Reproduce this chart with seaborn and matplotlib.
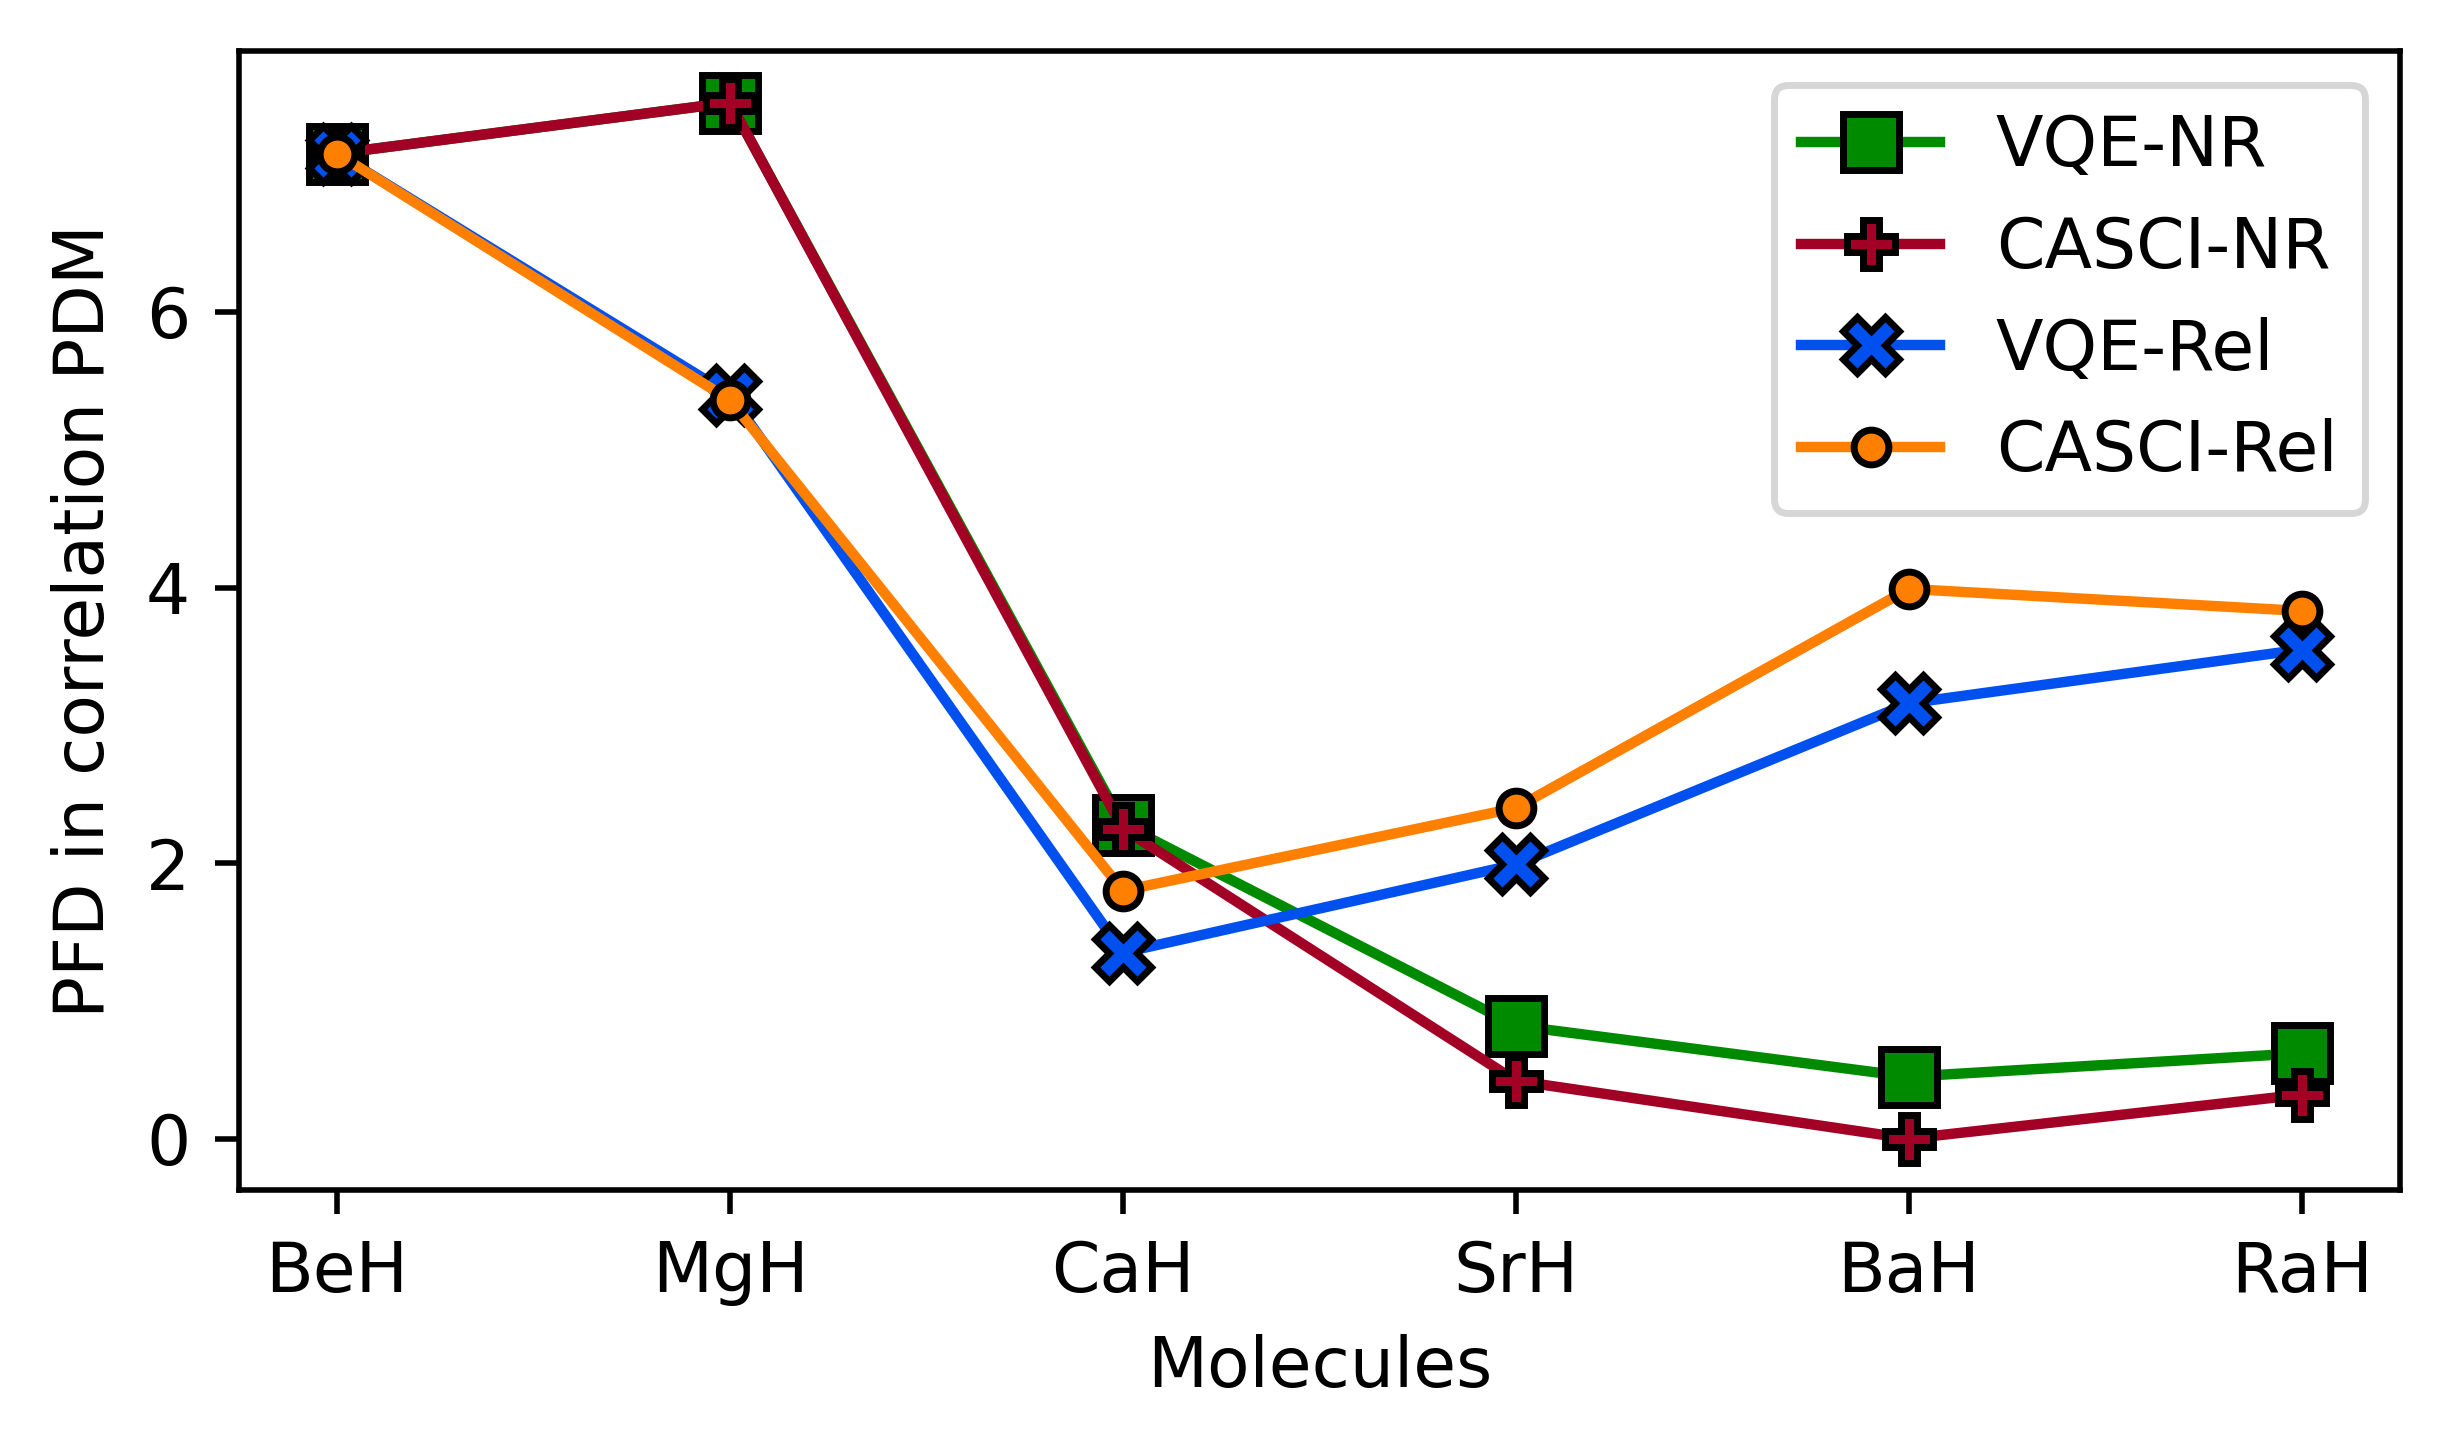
import numpy as np
import pandas as pd
import seaborn as sns
from matplotlib import pyplot as plt

molecules = ['BeH', 'MgH', 'CaH', 'SrH', 'BaH', 'RaH']
vqe_nr = [7.15, 7.52, 2.28, 0.82, 0.45, 0.62]
casci_nr = [7.15, 7.52, 2.25, 0.42, 0.00, 0.32]
vqe_rel = [7.15, 5.40, 1.35, 1.99, 3.16, 3.55]
casci_rel = [7.15, 5.36, 1.80, 2.40, 3.99, 3.83]

series = [
    ('VQE-NR', vqe_nr, '#008a00', 's', 8),
    ('CASCI-NR', casci_nr, '#a20025', 'P', 7),
    ('VQE-Rel', vqe_rel, '#0050ef', 'X', 8),
    ('CASCI-Rel', casci_rel, '#ff8000', 'o', 5),
]

fig, ax = plt.subplots(figsize=(4.898, 2.9), dpi=500)
fig.subplots_adjust(left=0.0975, right=0.98, top=0.965, bottom=0.179)

for name, vals, col, mk, ms in series:
    df = pd.DataFrame({'Molecules': molecules, 'val': vals})
    sns.lineplot(data=df, x='Molecules', y='val', ax=ax, color=col, marker=mk,
                 markersize=ms, markeredgecolor='black', markeredgewidth=1,
                 linewidth=1.5, label=name)

ax.set_xlabel('Molecules')
ax.set_ylabel('PFD in correlation PDM')
ax.set_yticks([0, 2, 4, 6])
ax.legend(loc='upper right')

fig.savefig('out.png', dpi=500)
